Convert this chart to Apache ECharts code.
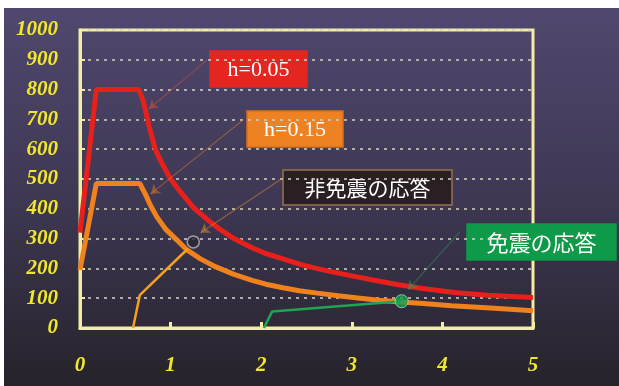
<!DOCTYPE html>
<html>
<head>
<meta charset="utf-8">
<script src="https://cdn.jsdelivr.net/npm/echarts@6/dist/echarts.min.js"></script>
<style>
html, body { margin: 0; padding: 0; background: #fff; }
#chart { position: absolute; left: 4px; top: 8px; width: 615px; height: 378px; }
</style>
</head>
<body>
<div id="chart"></div>
<script>
// 軸の目盛り
var xTicks = [0, 1, 2, 3, 4, 5];
var yMax = 1000;
var yStep = 100;

// h=0.05 の応答スペクトル
var curve005 = [[0, 320], [0.18, 800], [0.65, 800], [0.70, 760], [0.76, 680], [0.83, 600],
	[0.9, 555], [1.0, 500], [1.1, 460], [1.25, 405], [1.4, 365], [1.55, 330], [1.7, 300],
	[1.88, 272], [2.05, 250], [2.24, 232], [2.45, 212], [2.68, 195], [3.0, 175],
	[3.25, 160], [3.5, 146], [3.8, 132], [4.16, 118], [4.5, 110], [5, 102]];
// h=0.15 の応答スペクトル
var curve015 = [[0, 195], [0.18, 485], [0.66, 485], [0.72, 450], [0.78, 410], [0.85, 372],
	[0.95, 330], [1.07, 295], [1.18, 262], [1.33, 232], [1.5, 205], [1.7, 180], [1.9, 160],
	[2.05, 147], [2.24, 135], [2.42, 125], [2.62, 117], [2.85, 108], [3.09, 100],
	[3.3, 93], [3.5, 88], [3.79, 82], [4.1, 75], [4.53, 67], [5, 58]];
// 非免震の応答（細線）
var nonIsolated = [[0.585, 0], [0.66, 110], [1.19, 266]];
// 免震の応答（細線）
var isolated = [[2.03, 0], [2.12, 55], [3.55, 90]];
// 応答点
var nonIsolatedPoint = [[1.25, 289]];
var isolatedPoint = [[3.55, 90]];

// 引出し線（ラベル -> 曲線）
var arrows = [
	{ coords: [[1.40, 899], [0.76, 735]], color: '#d0503c' },
	{ coords: [[1.80, 698], [0.78, 450]], color: '#d8782c' },
	{ coords: [[2.24, 503], [1.33, 320]], color: '#e08a30' },
	{ coords: [[4.19, 322], [3.62, 128]], color: '#2c9a5c' }
];

// ラベル枠
var labels = [
	{ text: 'h=0.05', x: 206, y: 43, w: 97, h: 36, fill: '#e42620', stroke: '#e42620', font: '22px "Liberation Serif"' },
	{ text: 'h=0.15', x: 243, y: 103, w: 96, h: 36, fill: '#ee8222', stroke: '#d97018', font: '22px "Liberation Serif"' },
	{ text: '非免震の応答', x: 279, y: 162, w: 169, h: 35, fill: '#2a2024', stroke: '#9a7050', font: '21px "Noto Sans CJK JP"' },
	{ text: '免震の応答', x: 463, y: 216, w: 149, h: 36, fill: '#0e9a48', stroke: '#0e9a48', font: '22px "Noto Sans CJK JP"' }
];

var myChart = echarts.init(document.getElementById('chart'));

var axisColor = '#f2eca4';
// 目盛りラベル（斜体・太字）
var tickRich = {
	t: {
		color: '#f2e82a',
		fontStyle: 'italic',
		fontWeight: 'bold',
		fontFamily: 'Liberation Serif',
		fontSize: 21
	}
};

var graphics = labels.map(function(l) {
	return {
		type: 'group',
		x: l.x,
		y: l.y,
		children: [{
			type: 'rect',
			shape: { x: 0, y: 0, width: l.w, height: l.h },
			style: { fill: l.fill, stroke: l.stroke, lineWidth: 1.5 }
		}, {
			type: 'text',
			style: {
				text: l.text, x: l.w / 2, y: l.h / 2 + 1,
				align: 'center', verticalAlign: 'middle',
				fill: '#fff', font: l.font
			}
		}]
	};
});

var option = {
	backgroundColor: {
		type: 'linear', x: 0, y: 0, x2: 0, y2: 1,
		colorStops: [
			{ offset: 0, color: '#50486e' },
			{ offset: 0.5, color: '#3e3854' },
			{ offset: 1, color: '#26232b' }
		]
	},
	animation: false,
	grid: {
		left: 76, top: 22, right: 86, bottom: 58,
		outerBoundsMode: 'none',
		show: true,
		borderColor: axisColor,
		borderWidth: 3,
		backgroundColor: 'transparent'
	},
	xAxis: {
		type: 'value',
		min: 0, max: 5, interval: 1,
		axisLine: { show: true, onZero: false, lineStyle: { color: axisColor, width: 3 } },
		axisTick: { show: true, inside: true, length: 6, lineStyle: { color: axisColor, width: 3 } },
		splitLine: { show: false },
		axisLabel: {
			margin: 27,
			rich: tickRich,
			formatter: function(v) { return xTicks.indexOf(v) >= 0 ? '{t|' + v + '}' : ''; }
		}
	},
	yAxis: {
		type: 'value',
		min: 0, max: yMax, interval: yStep,
		axisLine: { show: true, lineStyle: { color: axisColor, width: 3 } },
		axisTick: { show: true, inside: true, length: 5, lineStyle: { color: axisColor, width: 2 } },
		splitLine: { show: true, lineStyle: { color: '#d8d4c4', width: 1.5, type: [3, 5] } },
		axisLabel: {
			margin: 22,
			rich: tickRich,
			formatter: function(v) { return '{t|' + v + '}'; }
		}
	},
	series: [{
		name: 'h=0.05', type: 'line', data: curve005,
		showSymbol: false,
		lineStyle: { color: '#e8201c', width: 5 }
	}, {
		name: 'h=0.15', type: 'line', data: curve015,
		showSymbol: false,
		lineStyle: { color: '#f0821e', width: 5 }
	}, {
		name: '非免震の応答', type: 'line', data: nonIsolated,
		showSymbol: false,
		lineStyle: { color: '#f4a020', width: 2.5 }
	}, {
		name: '免震の応答', type: 'line', data: isolated,
		showSymbol: false,
		lineStyle: { color: '#1fa552', width: 2.5 }
	}, {
		type: 'lines', coordinateSystem: 'cartesian2d',
		symbol: ['none', 'arrow'], symbolSize: 9,
		data: arrows.map(function(a) {
			return { coords: a.coords, lineStyle: { color: a.color, width: 1.2 } };
		}),
		z: 4
	}, {
		type: 'scatter', data: nonIsolatedPoint,
		symbolSize: 12,
		itemStyle: { color: '#2a2630', borderColor: '#b8b8c0', borderWidth: 1.5 },
		z: 5
	}, {
		type: 'scatter', data: isolatedPoint,
		symbolSize: 13,
		itemStyle: { color: '#16a050', borderColor: '#a8dcb0', borderWidth: 1 },
		z: 5
	}],
	graphic: graphics
};

myChart.setOption(option);
</script>
</body>
</html>
